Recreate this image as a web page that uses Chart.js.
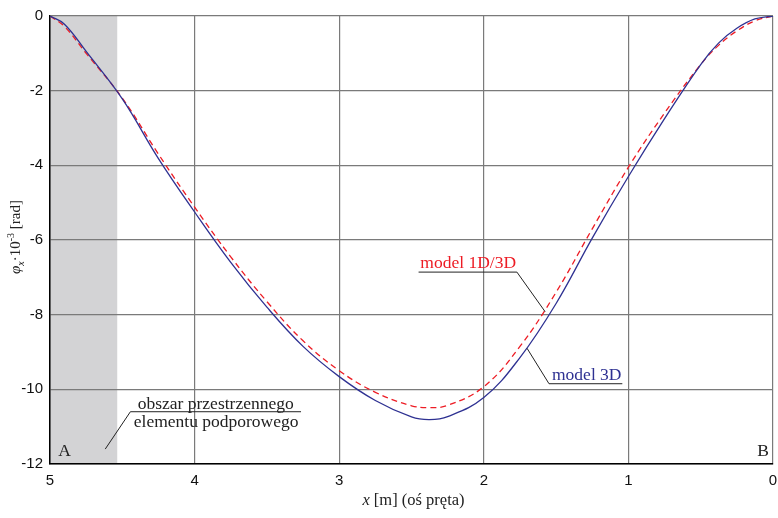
<!DOCTYPE html>
<html>
<head>
<meta charset="utf-8">
<script src="https://cdn.jsdelivr.net/npm/chart.js@4/dist/chart.umd.min.js"></script>
<style>
  html, body { margin: 0; padding: 0; background: #fff; }
  #wrap { width: 778px; height: 518px; position: relative; }
</style>
</head>
<body>
<div id="wrap"><canvas id="chart"></canvas></div>
<script>
// x along the bar [m]
const xs3D = [5, 4.9, 4.75, 4.5, 4.25, 4, 3.75, 3.5, 3.25, 3, 2.75, 2.5, 2.375, 2.25, 2, 1.75, 1.5, 1.25, 1, 0.75, 0.5, 0.375, 0.25, 0.125, 0];
const phi3D = [0, -0.22, -0.95, -2.22, -3.82, -5.25, -6.6, -7.8, -8.85, -9.66, -10.3, -10.74, -10.81, -10.73, -10.22, -9.15, -7.7, -5.95, -4.3, -2.75, -1.3, -0.72, -0.33, -0.08, 0];

const xs1D = [5, 4.9, 4.75, 4.5, 4.25, 4, 3.75, 3.5, 3.25, 3, 2.75, 2.5, 2.375, 2.25, 2, 1.75, 1.5, 1.25, 1, 0.75, 0.5, 0.375, 0.25, 0.125, 0];
const phi1D = [0, -0.28, -1.0, -2.2, -3.7, -5.12, -6.45, -7.65, -8.7, -9.5, -10.08, -10.44, -10.49, -10.43, -9.93, -8.85, -7.4, -5.7, -4.05, -2.6, -1.3, -0.78, -0.4, -0.13, 0];

const xTicks = [0, 1, 2, 3, 4, 5];
const yTicks = [-12, -10, -8, -6, -4, -2, 0];
const supportZone = [4.535, 5];

const BLUE = "#2e3192";
const RED = "#ed1c24";
const SERIF = "'Liberation Serif', 'DejaVu Serif', serif";

const toPoints = (xs, ys) => xs.map((x, i) => ({ x, y: ys[i] }));

// callouts in data units
const callouts = [
    { text: "model 1D/3D", color: RED, tx: 2.108, ty: -6.75, ux: [2.451, 1.771], uy: -6.86, lead: [1.771, -6.86, 1.576, -7.92] },
    { text: "model 3D", color: BLUE, tx: 1.288, ty: -9.75, ux: [1.549, 1.042], uy: -9.85, lead: [1.549, -9.85, 1.701, -8.9] },
    { text: "obszar przestrzennego", color: "#222", tx: 3.854, ty: -10.52, ux: [4.444, 3.264], uy: -10.6, lead: [4.444, -10.6, 4.618, -11.6] },
    { text: "elementu podporowego", color: "#222", tx: 3.851, ty: -11.0 },
    { text: "A", color: "#222", tx: 4.9, ty: -11.79 },
    { text: "B", color: "#222", tx: 0.069, ty: -11.79 },
];

const decorations = {
    id: "decorations",
    beforeDraw(chart) {
        const { ctx, chartArea, scales } = chart;
        const x0 = scales.x.getPixelForValue(supportZone[1]);
        const x1 = scales.x.getPixelForValue(supportZone[0]);
        ctx.save();
        ctx.fillStyle = "#d3d3d5";
        ctx.fillRect(x0, chartArea.top, x1 - x0, chartArea.bottom - chartArea.top);
        ctx.restore();
    },
    afterDraw(chart) {
        const { ctx, chartArea, scales } = chart;
        const px = (v) => scales.x.getPixelForValue(v);
        const py = (v) => scales.y.getPixelForValue(v);
        ctx.save();
        ctx.font = "17.5px " + SERIF;
        ctx.textAlign = "center";
        ctx.textBaseline = "alphabetic";
        callouts.forEach((c) => {
            ctx.fillStyle = c.color;
            ctx.fillText(c.text, px(c.tx), py(c.ty));
            ctx.strokeStyle = "#222";
            ctx.lineWidth = 1;
            if (c.ux) {
                ctx.beginPath();
                ctx.moveTo(px(c.ux[0]), py(c.uy));
                ctx.lineTo(px(c.ux[1]), py(c.uy));
                ctx.stroke();
            }
            if (c.lead) {
                ctx.beginPath();
                ctx.moveTo(px(c.lead[0]), py(c.lead[1]));
                ctx.lineTo(px(c.lead[2]), py(c.lead[3]));
                ctx.stroke();
            }
        });

        // x axis title
        ctx.fillStyle = "#222";
        ctx.textAlign = "left";
        const xParts = [
            { t: "x", f: "italic 16.5px " + SERIF },
            { t: " [m] (oś pręta)", f: "16.5px " + SERIF },
        ];
        let w = 0;
        xParts.forEach((p) => { ctx.font = p.f; w += ctx.measureText(p.t).width; });
        let cx = (chartArea.left + chartArea.right) / 2 + 2 - w / 2;
        xParts.forEach((p) => {
            ctx.font = p.f;
            ctx.fillText(p.t, cx, chartArea.bottom + 41);
            cx += ctx.measureText(p.t).width;
        });

        // y axis title, rotated, with sub/superscript
        const yParts = [
            { t: "φ", f: "italic 15px " + SERIF, dy: 0 },
            { t: "x", f: "italic 10px " + SERIF, dy: 4 },
            { t: "·10", f: "15px " + SERIF, dy: 0 },
            { t: "-3", f: "10px " + SERIF, dy: -6 },
            { t: " [rad]", f: "15px " + SERIF, dy: 0 },
        ];
        w = 0;
        yParts.forEach((p) => { ctx.font = p.f; w += ctx.measureText(p.t).width; });
        ctx.translate(20, (chartArea.top + chartArea.bottom) / 2 - 3);
        ctx.rotate(-Math.PI / 2);
        cx = -w / 2;
        yParts.forEach((p) => {
            ctx.font = p.f;
            ctx.fillText(p.t, cx, p.dy);
            cx += ctx.measureText(p.t).width;
        });
        ctx.restore();
    },
};

new Chart(document.getElementById("chart"), {
    type: "line",
    data: {
        datasets: [
            {
                label: "model 3D",
                data: toPoints(xs3D, phi3D),
                borderColor: BLUE,
                borderWidth: 1.3,
                pointRadius: 0,
                tension: 0.4,
                fill: false,
            },
            {
                label: "model 1D/3D",
                data: toPoints(xs1D, phi1D),
                borderColor: RED,
                borderWidth: 1.3,
                borderDash: [6, 4],
                pointRadius: 0,
                tension: 0.4,
                fill: false,
            },
        ],
    },
    options: {
        responsive: true,
        maintainAspectRatio: false,
        animation: false,
        layout: {
            padding: { top: 11, right: 5, left: 0, bottom: 0 },
        },
        plugins: {
            legend: { display: false },
            tooltip: { enabled: false },
        },
        scales: {
            x: {
                type: "linear",
                reverse: true,
                min: 0,
                max: 5,
                afterFit: (scale) => { scale.height = 54; },
                afterBuildTicks: (scale) => { scale.ticks = xTicks.map((v) => ({ value: v })); },
                grid: { color: "#7a7a7a", lineWidth: 1.2, drawTicks: false },
                border: { color: "#000", width: 1.5 },
                ticks: {
                    color: "#111",
                    padding: 8,
                    maxRotation: 0,
                    font: { family: "'Liberation Sans', Arial, sans-serif", size: 15 },
                },
            },
            y: {
                min: -12,
                max: 0,
                afterFit: (scale) => { scale.width = 50; },
                afterBuildTicks: (scale) => { scale.ticks = yTicks.map((v) => ({ value: v })); },
                grid: { color: "#7a7a7a", lineWidth: 1.2, drawTicks: false },
                border: { color: "#000", width: 1.5 },
                ticks: {
                    color: "#111",
                    padding: 7,
                    font: { family: "'Liberation Sans', Arial, sans-serif", size: 15 },
                },
            },
        },
    },
    plugins: [decorations],
});
</script>
</body>
</html>
